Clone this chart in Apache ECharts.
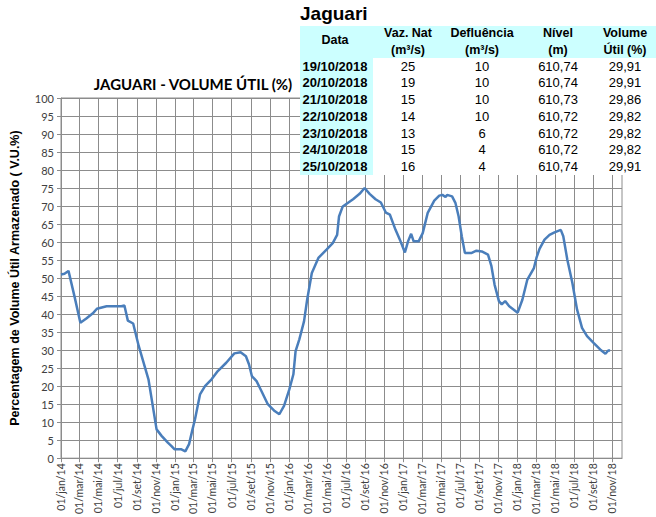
<!DOCTYPE html>
<html>
<head>
<meta charset="utf-8">
<script src="https://cdn.jsdelivr.net/npm/echarts@6/dist/echarts.min.js"></script>
<style>
html,body{margin:0;padding:0;background:#fff;}
#chart{width:656px;height:517px;}
</style>
</head>
<body>
<div id="chart"></div>
<script>
// ---- Series data ----
var dates = [
'2014-01-01','2014-01-12','2014-01-25','2014-02-13','2014-03-04','2014-03-22','2014-04-15','2014-04-26','2014-05-27','2014-07-13','2014-07-23','2014-08-03','2014-08-20','2014-09-07','2014-10-08','2014-11-03','2014-11-19','2014-12-09','2014-12-20','2014-12-30',
'2015-01-20','2015-02-03','2015-02-15','2015-02-26','2015-03-06','2015-03-22','2015-04-07','2015-04-28','2015-05-18','2015-06-14','2015-07-10','2015-07-30','2015-08-16','2015-08-26','2015-09-04','2015-09-19','2015-10-05','2015-10-25','2015-11-16','2015-12-01','2015-12-16',
'2016-01-02','2016-01-15','2016-01-22','2016-02-03','2016-02-18','2016-02-28','2016-03-14','2016-04-04','2016-04-30','2016-05-20','2016-06-03','2016-06-09','2016-06-21','2016-07-24','2016-08-14','2016-08-30','2016-09-15','2016-10-04','2016-10-21','2016-11-06','2016-11-19','2016-12-07','2016-12-23',
'2017-01-06','2017-01-16','2017-01-26','2017-02-03','2017-02-19','2017-03-04','2017-03-20','2017-04-10','2017-04-26','2017-05-06','2017-05-16','2017-05-21','2017-06-06','2017-06-17','2017-06-27','2017-07-07','2017-07-17','2017-08-08','2017-08-23','2017-09-09','2017-09-29','2017-10-10','2017-10-20','2017-11-03','2017-11-12','2017-11-23','2017-12-06',
'2018-01-02','2018-01-17','2018-02-02','2018-02-23','2018-03-03','2018-03-13','2018-03-29','2018-04-14','2018-04-30','2018-05-20','2018-05-28','2018-06-10','2018-06-26','2018-07-11','2018-07-27','2018-08-12','2018-09-02','2018-09-23','2018-10-10','2018-10-19','2018-10-25'
];
var volume = [
51.0,51.2,52.0,45.0,37.6,38.7,40.4,41.5,42.2,42.2,42.4,38.2,37.4,31.1,21.9,8.0,6.2,4.3,3.4,2.5,
2.5,1.9,3.9,8.0,10.8,17.7,20.0,21.9,24.2,26.5,29.1,29.4,28.3,26.0,22.8,21.4,18.6,15.0,13.1,12.2,14.5,
19.1,23.3,29.7,33.0,38.0,44.0,51.4,55.6,57.9,59.7,62.0,67.1,69.9,71.9,73.4,75.0,73.4,71.9,71.0,68.2,67.6,63.4,60.2,
57.1,60.2,62.3,60.2,60.2,62.5,68.1,71.5,72.9,73.1,72.5,73.1,72.7,70.8,67.1,61.6,57.0,57.0,57.6,57.4,56.5,53.3,48.2,43.6,42.7,43.6,42.2,
40.4,44.0,49.6,52.8,55.6,58.1,60.7,62.0,62.7,63.4,61.6,55.1,48.7,41.3,36.2,33.9,32.0,30.2,29.0,29.91,29.91
];

// ---- Axis ticks ----
var monthNames = ['jan','fev','mar','abr','mai','jun','jul','ago','set','out','nov','dez'];
var xTickYears = [2014, 2015, 2016, 2017, 2018];
var xTickMonths = [0, 2, 4, 6, 8, 10]; // jan, mar, mai, jul, set, nov
var yTicks = {min: 0, max: 100, interval: 5};

// ---- Table data ----
var tableTitle = 'Jaguari';
var tableHeaders = [['Data'], ['Vaz. Nat', '(m³/s)'], ['Defluência', '(m³/s)'], ['Nível', '(m)'], ['Volume', 'Útil (%)']];
var tableDates = ['19/10/2018','20/10/2018','21/10/2018','22/10/2018','23/10/2018','24/10/2018','25/10/2018'];
var vazNat = ['25','19','15','14','13','15','16'];
var defluencia = ['10','10','10','10','6','4','4'];
var nivel = ['610,74','610,74','610,73','610,72','610,72','610,72','610,74'];
var volumeUtil = ['29,91','29,91','29,86','29,82','29,82','29,82','29,91'];

// ---- Build ----
var tickValues = [];
xTickYears.forEach(function (y) {
  xTickMonths.forEach(function (m) { tickValues.push(new Date(y, m, 1).getTime()); });
});
var seriesData = dates.map(function (d, i) {
  var p = d.split('-');
  return [new Date(+p[0], +p[1] - 1, +p[2]).getTime(), volume[i]];
});
function fmt(v) {
  var d = new Date(v);
  var dd = ('0' + d.getDate()).slice(-2);
  return dd + '/' + monthNames[d.getMonth()] + '/' + String(d.getFullYear()).slice(-2);
}

var gridColor = '#8c8c8c';
var cyan = '#ccffff';
var tFont = '"Liberation Sans", Arial, sans-serif';
var colX = [335, 408, 482, 558, 625];
var rowY0 = 66, rowH = 16.75;

var graphics = [
  {type: 'rect', z: 100, shape: {x: 300, y: 26, width: 356, height: 32}, style: {fill: cyan}},
  {type: 'rect', z: 100, shape: {x: 300, y: 58, width: 73, height: 117}, style: {fill: cyan}},
  {type: 'rect', z: 100, shape: {x: 373, y: 58, width: 283, height: 117}, style: {fill: '#ffffff'}},
  {type: 'text', z: 101, x: 300, y: 13, style: {text: tableTitle, fill: '#000', font: 'bold 19px ' + tFont, align: 'left', verticalAlign: 'middle', textAlign: 'left', textVerticalAlign: 'middle'}}
];
tableHeaders.forEach(function (lines, c) {
  var ys = lines.length === 1 ? [40] : [33, 49.5];
  lines.forEach(function (t, k) {
    graphics.push({type: 'text', z: 101, x: colX[c], y: ys[k], style: {text: t, fill: '#000', font: 'bold 12.5px ' + tFont, align: 'center', verticalAlign: 'middle', textAlign: 'center', textVerticalAlign: 'middle'}});
  });
});
var cols = [tableDates, vazNat, defluencia, nivel, volumeUtil];
cols.forEach(function (col, c) {
  col.forEach(function (t, r) {
    graphics.push({type: 'text', z: 101, x: colX[c], y: rowY0 + r * rowH, style: {text: t, fill: '#000', font: (c === 0 ? 'bold ' : '') + '13px ' + tFont, align: 'center', verticalAlign: 'middle', textAlign: 'center', textVerticalAlign: 'middle'}});
  });
});

var chart = echarts.init(document.getElementById('chart'), null, {renderer: 'svg'});
chart.setOption({
  animation: false,
  backgroundColor: '#ffffff',
  title: {
    text: 'JAGUARI - VOLUME ÚTIL (%)',
    left: 188, top: 71, textAlign: 'center',
    textStyle: {fontFamily: 'Lato, "Open Sans", sans-serif', fontWeight: 'bold', fontSize: 15, color: '#000'}
  },
  grid: {left: 47, right: 34, top: 98, bottom: 58, show: true, borderColor: gridColor, borderWidth: 1, backgroundColor: 'transparent'},
  xAxis: {
    type: 'value',
    min: new Date(2014, 0, 1).getTime(),
    max: new Date(2018, 11, 2).getTime(),
    axisLine: {lineStyle: {color: gridColor, width: 1}},
    axisTick: {show: true, length: 4, customValues: tickValues, lineStyle: {color: gridColor}},
    axisLabel: {customValues: tickValues, rotate: 90, formatter: fmt, color: '#404040', fontSize: 10.5, fontFamily: 'Lato, sans-serif', margin: 5, hideOverlap: false},
    splitLine: {show: true, lineStyle: {color: gridColor, width: 1}}
  },
  yAxis: {
    type: 'value', min: yTicks.min, max: yTicks.max, interval: yTicks.interval,
    name: 'Percentagem de Volume Útil Armazenado ( V.U.%)',
    nameLocation: 'middle', nameGap: 40,
    nameTextStyle: {fontFamily: tFont, fontWeight: 'bold', fontSize: 12.5, color: '#000'},
    axisLine: {show: true, lineStyle: {color: gridColor, width: 1}},
    axisTick: {show: true, length: 4, lineStyle: {color: gridColor}},
    axisLabel: {color: '#404040', fontSize: 11, fontFamily: 'Lato, sans-serif', margin: 7},
    splitLine: {show: true, lineStyle: {color: gridColor, width: 1}}
  },
  series: [{
    type: 'line', data: seriesData, showSymbol: false, smooth: false,
    lineStyle: {color: '#4a7ebb', width: 2.5}, itemStyle: {color: '#4a7ebb'}
  }],
  graphic: {elements: graphics}
});
</script>
</body>
</html>
